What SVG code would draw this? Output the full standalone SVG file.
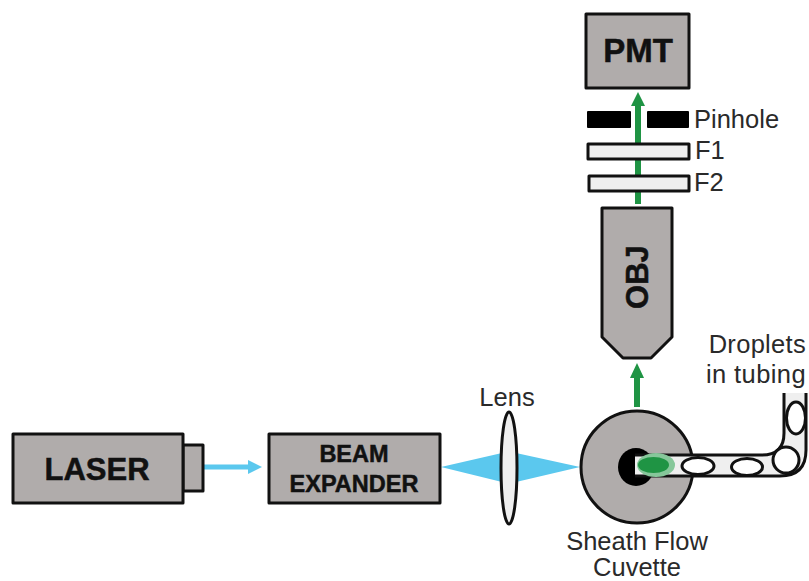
<svg xmlns="http://www.w3.org/2000/svg" width="809" height="581" viewBox="0 0 809 581">
<style>
.box{fill:#b0acab;stroke:#111;stroke-width:3;stroke-linejoin:round}
.glass{fill:#efefef;stroke:#111;stroke-width:3;stroke-linejoin:round}
.b{font-family:"Liberation Sans",Arial,sans-serif;font-weight:700;fill:#111;stroke:#111;stroke-width:.5;text-anchor:middle}
.t{font-family:"Liberation Sans",Arial,sans-serif;font-size:25.5px;fill:#2a2a2a}
.m{text-anchor:middle}
.drop{fill:#fff;stroke:#111;stroke-width:3}
</style>
<rect width="809" height="581" fill="#fff"/>
<g id="connectors">
<path d="M203 467H250" stroke="#5bc8ee" stroke-width="5" fill="none"/>
<path d="M262 467L248 460V474Z" fill="#5bc8ee"/>
<path d="M441 467L502 453V482Z" fill="#5bc8ee"/>
<path d="M516 453L580 467L516 482Z" fill="#5bc8ee"/>
<path d="M637 407V376" stroke="#1f9444" stroke-width="6" fill="none"/>
<path d="M637 363L630 378H644Z" fill="#1f9444"/>
<path d="M638 204V104" stroke="#1f9444" stroke-width="6" fill="none"/>
<path d="M638 92L631 106H645Z" fill="#1f9444"/>
</g>
<g id="laser">
<rect class="box" x="183" y="445" width="20" height="46"/>
<rect class="box" x="13" y="434" width="170" height="69"/>
<text class="b" x="97" y="480" font-size="31">LASER</text>
</g>
<g id="beam-expander">
<rect class="box" x="269" y="434" width="171" height="69"/>
<text class="b" x="354" y="462" font-size="23.5">BEAM</text>
<text class="b" x="354" y="492" font-size="23.5">EXPANDER</text>
</g>
<g id="lens">
<ellipse class="glass" cx="509" cy="468" rx="8" ry="56"/>
<text class="t m" x="507" y="406">Lens</text>
</g>
<g id="cuvette">
<circle class="box" cx="637" cy="467" r="56"/>
<ellipse cx="636" cy="467" rx="18" ry="19" fill="#000"/>
<text class="t m" x="637" y="550">Sheath Flow</text>
<text class="t m" x="637" y="575.5">Cuvette</text>
</g>
<g id="tubing">
<path d="M635 455H762Q784 455 784 433V393H806V450Q806 476 780 476H635Z" fill="#efefef"/>
<path d="M635 455H762Q784 455 784 433V393M806 393V450Q806 476 780 476H635" fill="none" stroke="#111" stroke-width="3"/>
<ellipse cx="656" cy="465" rx="19" ry="12" fill="#86c79a"/>
<ellipse cx="653.500" cy="465" rx="15.500" ry="8" fill="#1f9444"/>
<ellipse class="drop" cx="698" cy="466" rx="16" ry="8.500"/>
<ellipse class="drop" cx="747" cy="467" rx="15.500" ry="8.500"/>
<circle class="drop" cx="786" cy="460" r="13"/>
<ellipse class="drop" cx="796" cy="418" rx="9.500" ry="16"/>
<text class="t" x="806" y="353" text-anchor="end" letter-spacing=".3">Droplets</text>
<text class="t" x="806" y="383" text-anchor="end" letter-spacing=".4">in tubing</text>
</g>
<g id="obj">
<path class="box" d="M602 208H672V337L651 358H623L602 337Z"/>
<text class="b" transform="translate(648 277) rotate(-90)" font-size="31">OBJ</text>
</g>
<g id="f2">
<rect class="glass" x="589" y="176" width="100" height="15"/>
<text class="t" x="694" y="191">F2</text>
</g>
<g id="f1">
<rect class="glass" x="588" y="144" width="101" height="15"/>
<text class="t" x="695" y="159">F1</text>
</g>
<g id="pinhole">
<rect x="587" y="111" width="44" height="17" rx="1" fill="#000"/>
<rect x="647" y="111" width="42" height="17" rx="1" fill="#000"/>
<text class="t" x="694" y="128">Pinhole</text>
</g>
<g id="pmt">
<rect class="box" x="586" y="14" width="103" height="74"/>
<text class="b" x="638" y="62" font-size="33">PMT</text>
</g>
</svg>
